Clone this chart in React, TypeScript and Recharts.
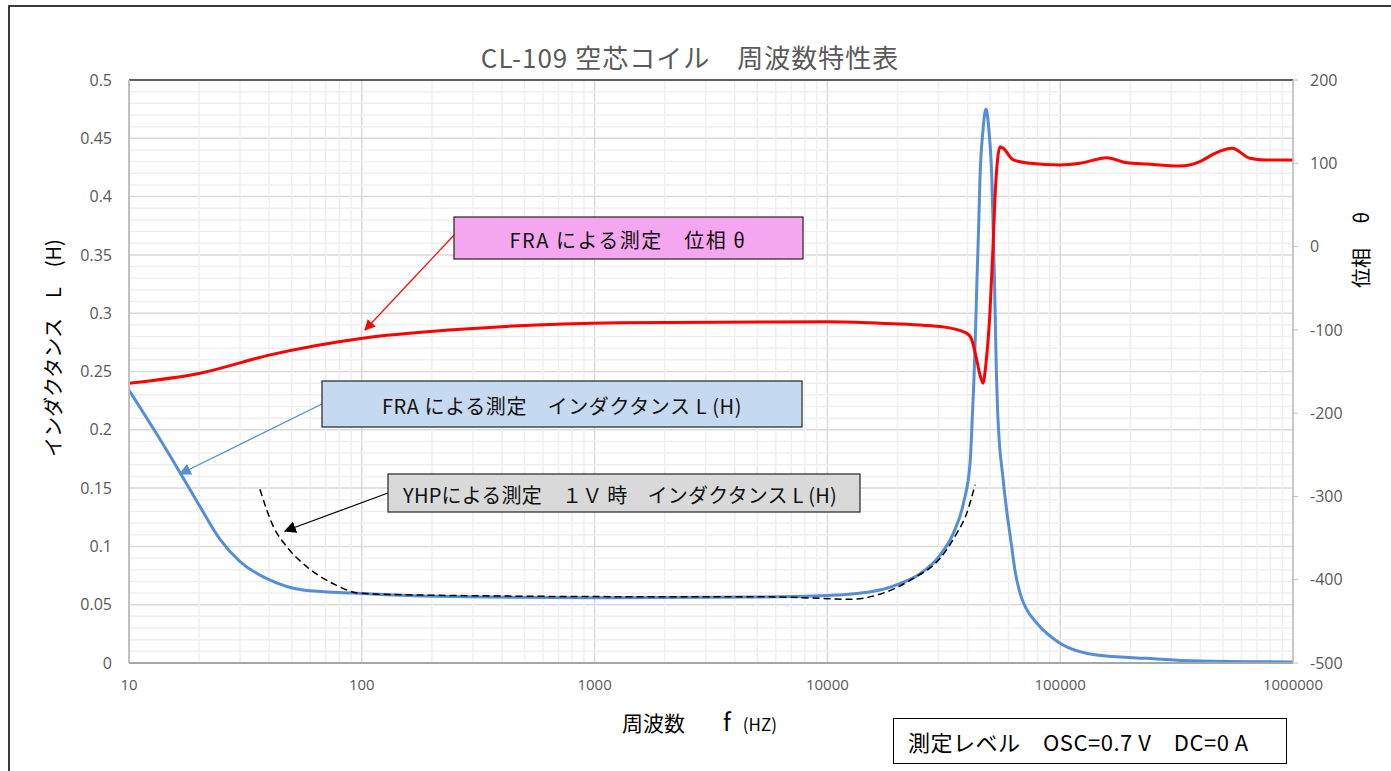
import { ComposedChart, Line, XAxis, YAxis, CartesianGrid, ReferenceLine } from 'recharts'

// axis ticks
const freqTicks = [10, 100, 1000, 10000, 100000, 1000000]
const inductanceTicks = [0, 0.05, 0.1, 0.15, 0.2, 0.25, 0.3, 0.35, 0.4, 0.45, 0.5]
const phaseTicks = [-500, -400, -300, -200, -100, 0, 100, 200]

// FRA inductance L (H)
const fraFreq = [10, 13.1, 16.6, 20.2, 24.6, 30, 40.4, 55.8, 91.5, 178, 927, 5000, 10000, 16800, 19800, 25000, 30500, 34700, 38400, 41000, 42000, 42600, 43300, 43900, 44600, 45200, 46600, 48000, 49400, 50900, 52200, 53200, 53900, 56900, 61900, 64000, 67200, 71300, 79300, 99800, 143500, 235000, 398000, 1000000]
const fraL = [0.234, 0.197, 0.163, 0.134, 0.106, 0.087, 0.071, 0.0626, 0.06, 0.0575, 0.056, 0.0565, 0.0578, 0.0626, 0.067, 0.0765, 0.0926, 0.111, 0.137, 0.1715, 0.2144, 0.2427, 0.2856, 0.3285, 0.3714, 0.4142, 0.4571, 0.4751, 0.4571, 0.4142, 0.3285, 0.249, 0.214, 0.157, 0.0997, 0.079, 0.06, 0.047, 0.0343, 0.017, 0.0069, 0.004, 0.0017, 0.0009]

// FRA phase (deg)
const phaseFreq = [10, 20.2, 40.4, 101, 246, 1280, 10200, 16800, 30500, 39600, 41700, 43800, 45200, 46600, 48000, 49900, 51400, 52500, 53800, 55100, 56900, 62900, 74200, 99800, 121600, 158500, 193000, 235000, 327000, 398000, 462000, 547000, 653000, 758000, 1000000]
const phaseDeg = [-164, -152, -130, -110, -100, -91.4, -90.3, -92, -96, -104, -112, -136, -154, -164, -140, -80, -4, 60, 104, 120, 118, 104, 100, 98, 100, 106.7, 100.7, 99, 96.7, 102, 112, 118, 106, 104, 104]

// YHP inductance at 1V (H)
const yhpFreq = [36.5, 41.7, 47.6, 58, 75.4, 98.2, 178, 1285, 5000, 9300, 12500, 16800, 23400, 30500, 35900, 39600, 43100]
const yhpL = [0.149, 0.117, 0.0998, 0.0826, 0.068, 0.0598, 0.0583, 0.0569, 0.0568, 0.0555, 0.0546, 0.059, 0.0726, 0.0898, 0.111, 0.128, 0.153]

const fraData = fraFreq.map((f, i) => ({ f, L: fraL[i] }))
const phaseData = phaseFreq.map((f, i) => ({ f, p: phaseDeg[i] }))
const yhpData = yhpFreq.map((f, i) => ({ f, L: yhpL[i] }))

// minor grid positions
const minorFreq: number[] = []
for (let d = 10; d < 1000000; d *= 10) for (let k = 2; k <= 9; k++) minorFreq.push(d * k)
const minorL: number[] = []
for (let i = 1; i < 50; i++) if (i % 5) minorL.push(i / 100)

const W = 1391
const H = 771
const tickStyle = { fontSize: 16, fill: '#595959', fontFamily: '"Open Sans", sans-serif' }
const jp = '"Noto Sans CJK JP", "Noto Sans", sans-serif'

export default function App() {
  return (
    <div style={{ position: 'absolute', left: 0, top: 0, width: W, height: H, overflow: 'hidden', background: '#fff', fontFamily: jp }}>
      <div style={{ position: 'absolute', left: 8, top: 5, width: W, height: H + 20, border: '2px solid #3a3a3a', boxSizing: 'border-box' }} />
      <div style={{ position: 'absolute', left: 0, top: 0 }}>
        <ComposedChart width={W} height={H} margin={{ top: 80, right: 38, bottom: 78, left: 69 }}>
          {minorFreq.map((v) => (
            <ReferenceLine key={'mx' + v} x={v} yAxisId="L" stroke="#efefef" strokeWidth={1.5} />
          ))}
          {minorL.map((v) => (
            <ReferenceLine key={'my' + v} y={v} yAxisId="L" stroke="#efefef" strokeWidth={1.5} />
          ))}
          <CartesianGrid yAxisId="L" stroke="#d9d9d9" strokeWidth={1.5} />
          <XAxis
            dataKey="f"
            type="number"
            scale="log"
            domain={[10, 1000000]}
            ticks={freqTicks}
            allowDataOverflow
            height={30}
            tick={{ ...tickStyle, fontSize: 15 }}
            tickSize={0}
            tickMargin={16}
            axisLine={{ stroke: '#a6a6a6', strokeWidth: 2 }}
            tickFormatter={(v: number) => String(v)}
          />
          <YAxis
            yAxisId="L"
            orientation="left"
            domain={[0, 0.5]}
            ticks={inductanceTicks}
            width={60}
            tick={tickStyle}
            tickSize={0}
            tickMargin={17}
            axisLine={{ stroke: '#bfbfbf', strokeWidth: 2 }}
            allowDataOverflow
          />
          <YAxis
            yAxisId="R"
            orientation="right"
            domain={[-500, 200]}
            ticks={phaseTicks}
            width={60}
            tick={{ ...tickStyle, textAnchor: 'start' }}
            tickSize={5}
            tickMargin={12}
            tickLine={{ stroke: '#bfbfbf' }}
            axisLine={{ stroke: '#bfbfbf', strokeWidth: 1.5 }}
            allowDataOverflow
          />
          <ReferenceLine yAxisId="L" y={0.5} stroke="#333" strokeWidth={1.5} />
          <Line
            yAxisId="L"
            data={fraData}
            dataKey="L"
            type="monotone"
            stroke="#558ED5"
            strokeWidth={3}
            dot={false}
            activeDot={false}
            isAnimationActive={false}
          />
          <Line
            yAxisId="R"
            data={phaseData}
            dataKey="p"
            type="monotone"
            stroke="#FF0000"
            strokeWidth={3}
            dot={false}
            activeDot={false}
            isAnimationActive={false}
          />
          <Line
            yAxisId="L"
            data={yhpData}
            dataKey="L"
            type="monotone"
            stroke="#000"
            strokeWidth={1.5}
            strokeDasharray="7 4"
            dot={false}
            activeDot={false}
            isAnimationActive={false}
          />
        </ComposedChart>
      </div>

      {/* annotations */}
      <svg width={W} height={H} style={{ position: 'absolute', left: 0, top: 0, pointerEvents: 'none' }}>
        <defs>
          <marker id="arR" viewBox="0 0 10 10" refX="9" refY="5" markerWidth="11" markerHeight="11" markerUnits="userSpaceOnUse" orient="auto">
            <path d="M0,0 L10,5 L0,10 z" fill="#FF0000" />
          </marker>
          <marker id="arB" viewBox="0 0 10 10" refX="9" refY="5" markerWidth="12" markerHeight="12" markerUnits="userSpaceOnUse" orient="auto">
            <path d="M0,0 L10,5 L0,10 z" fill="#558ED5" />
          </marker>
          <marker id="arK" viewBox="0 0 10 10" refX="9" refY="5" markerWidth="12" markerHeight="12" markerUnits="userSpaceOnUse" orient="auto">
            <path d="M0,0 L10,5 L0,10 z" fill="#000" />
          </marker>
        </defs>
        <line x1={455} y1={234} x2={365} y2={330} stroke="#FF0000" strokeWidth={1.2} markerEnd="url(#arR)" />
        <line x1={322} y1={404} x2={180} y2={474} stroke="#558ED5" strokeWidth={1.2} markerEnd="url(#arB)" />
        <line x1={388} y1={493} x2={285} y2={531} stroke="#000" strokeWidth={1.2} markerEnd="url(#arK)" />

        <rect x={454} y={217} width={349} height={42} fill="#F4A6EE" stroke="#222" strokeWidth={1.2} />
        <text x={628} y={239} textAnchor="middle" dominantBaseline="central" fontSize={20} letterSpacing={1.5} fontFamily={jp} fill="#111">
          FRA による測定　位相 θ
        </text>
        <rect x={322} y={381} width={480} height={46} fill="#C5D9F1" stroke="#222" strokeWidth={1.2} />
        <text x={562} y={405} textAnchor="middle" dominantBaseline="central" fontSize={20} letterSpacing={0.6} fontFamily={jp} fill="#111">
          FRA による測定　インダクタンス L (H)
        </text>
        <rect x={388} y={474} width={472} height={38} fill="#D9D9D9" stroke="#222" strokeWidth={1.2} />
        <text x={620} y={494} textAnchor="middle" dominantBaseline="central" fontSize={20} letterSpacing={0.2} fontFamily={jp} fill="#111">
          YHPによる測定　１Ｖ 時　インダクタンス L (H)
        </text>
      </svg>

      <div style={{ position: 'absolute', left: 390, width: 600, top: 41, textAlign: 'center', fontSize: 26, lineHeight: '32px', letterSpacing: 1, color: '#595959', whiteSpace: 'nowrap' }}>
        CL-109 空芯コイル　周波数特性表
      </div>
      <div style={{ position: 'absolute', left: 52, top: 348, transform: 'translate(-50%, -50%) rotate(-90deg)', fontSize: 20, whiteSpace: 'nowrap', color: '#000' }}>
        インダクタンス　L　(H)
      </div>
      <div style={{ position: 'absolute', left: 1360, top: 250, transform: 'translate(-50%, -50%) rotate(-90deg)', fontSize: 20, whiteSpace: 'nowrap', color: '#000' }}>
        位相　 θ
      </div>
      <div style={{ position: 'absolute', left: 622, top: 704, fontSize: 21, lineHeight: '34px', whiteSpace: 'nowrap', color: '#000' }}>
        周波数<span style={{ fontSize: 24, marginLeft: 38 }}>f</span>
        <span style={{ fontSize: 17, marginLeft: 12 }}>(HZ)</span>
      </div>
      <div style={{ position: 'absolute', left: 893, top: 718, width: 394, height: 46, boxSizing: 'border-box', border: '1px solid #000', background: '#fff', fontSize: 22, lineHeight: '44px', paddingLeft: 14, letterSpacing: 0.5, whiteSpace: 'nowrap', color: '#000' }}>
        測定レベル　OSC=0.7 V　DC=0 A
      </div>
    </div>
  )
}
